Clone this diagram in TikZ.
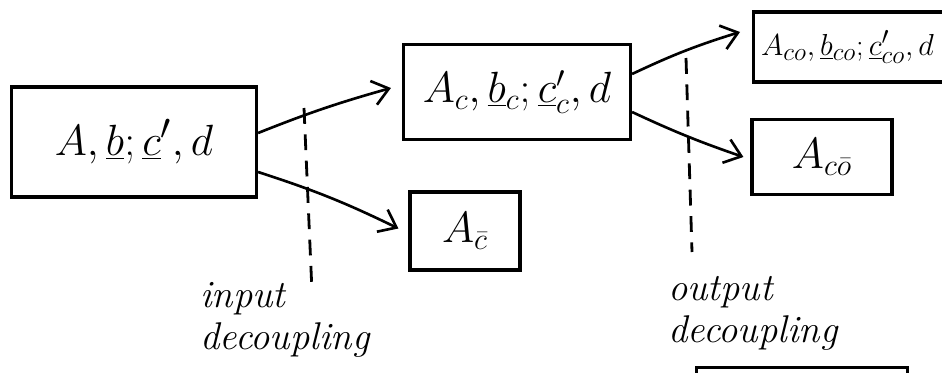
\documentclass[tikz,border=0pt]{standalone}
\usetikzlibrary{arrows.meta}
\begin{document}
\begin{tikzpicture}[x=0.02cm,y=-0.02cm,
  box/.style={draw,line width=1.8pt,inner sep=0pt,anchor=center},
  conn/.style={line width=1.5pt,-{Straight Barb[length=9pt,width=14pt,line width=1.5pt]}},
  dec/.style={line width=1.6pt,dash pattern=on 9pt off 6pt},
  lab/.style={font=\fontsize{22}{24}\selectfont\itshape,align=left,anchor=north west,inner sep=0pt}]
\useasboundingbox (0,0) rectangle (942,372);
\node[box,minimum width=4.9cm,minimum height=2.2cm,font=\fontsize{29}{31}\selectfont] (b1) at (134,142) {$A, \underline{b}; \underline{c}', d$};
\node[box,minimum width=4.54cm,minimum height=1.9cm,font=\fontsize{25}{27}\selectfont] (b2) at (517,92) {$A_c, \underline{b}_c; \underline{c}'_c, d$};
\node[box,minimum width=2.2cm,minimum height=1.56cm,font=\fontsize{26}{28}\selectfont] (b3) at (465,231) {$A_{\bar c}$};
\node[box,minimum height=1.4cm,anchor=west,inner xsep=0.15cm,text width=4.1cm,align=left,font=\fontsize{19}{21}\selectfont] (b4) at (752,47) {$A_{co},\underline{b}_{co};\underline{c}'_{co},d$};
\node[box,minimum width=2.8cm,minimum height=1.5cm,font=\fontsize{24}{26}\selectfont] (b5) at (822,157) {$A_{c\bar o}$};
\node[box,minimum width=4.22cm,minimum height=1.5cm] (b6) at (802,405) {};
\draw[conn] ([yshift=0.18cm]b1.east) to[bend left=3] ([xshift=-0.22cm,yshift=0.08cm]b2.west);
\draw[conn] ([yshift=-0.6cm]b1.east) to[bend left=4] ([xshift=-0.2cm,yshift=0.05cm]b3.west);
\draw[conn] ([yshift=0.36cm]b2.east) to[bend left=4] ([xshift=-0.24cm,yshift=0.3cm]b4.west);
\draw[conn] ([yshift=-0.4cm]b2.east) to[bend right=3] ([xshift=-0.14cm,yshift=0.0cm]b5.west);
\coordinate (i1) at (304,108);
\coordinate (i2) at (312,292);
\coordinate (o1) at (686,58);
\coordinate (o2) at (692,252);
\draw[dec] (i1) -- (i2);
\draw[dec] (o1) -- (o2);
\node[lab] (l1) at (200,282) {input\\decoupling};
\node[lab] (l2) at (668,276) {output\\decoupling};
\end{tikzpicture}
\end{document}
